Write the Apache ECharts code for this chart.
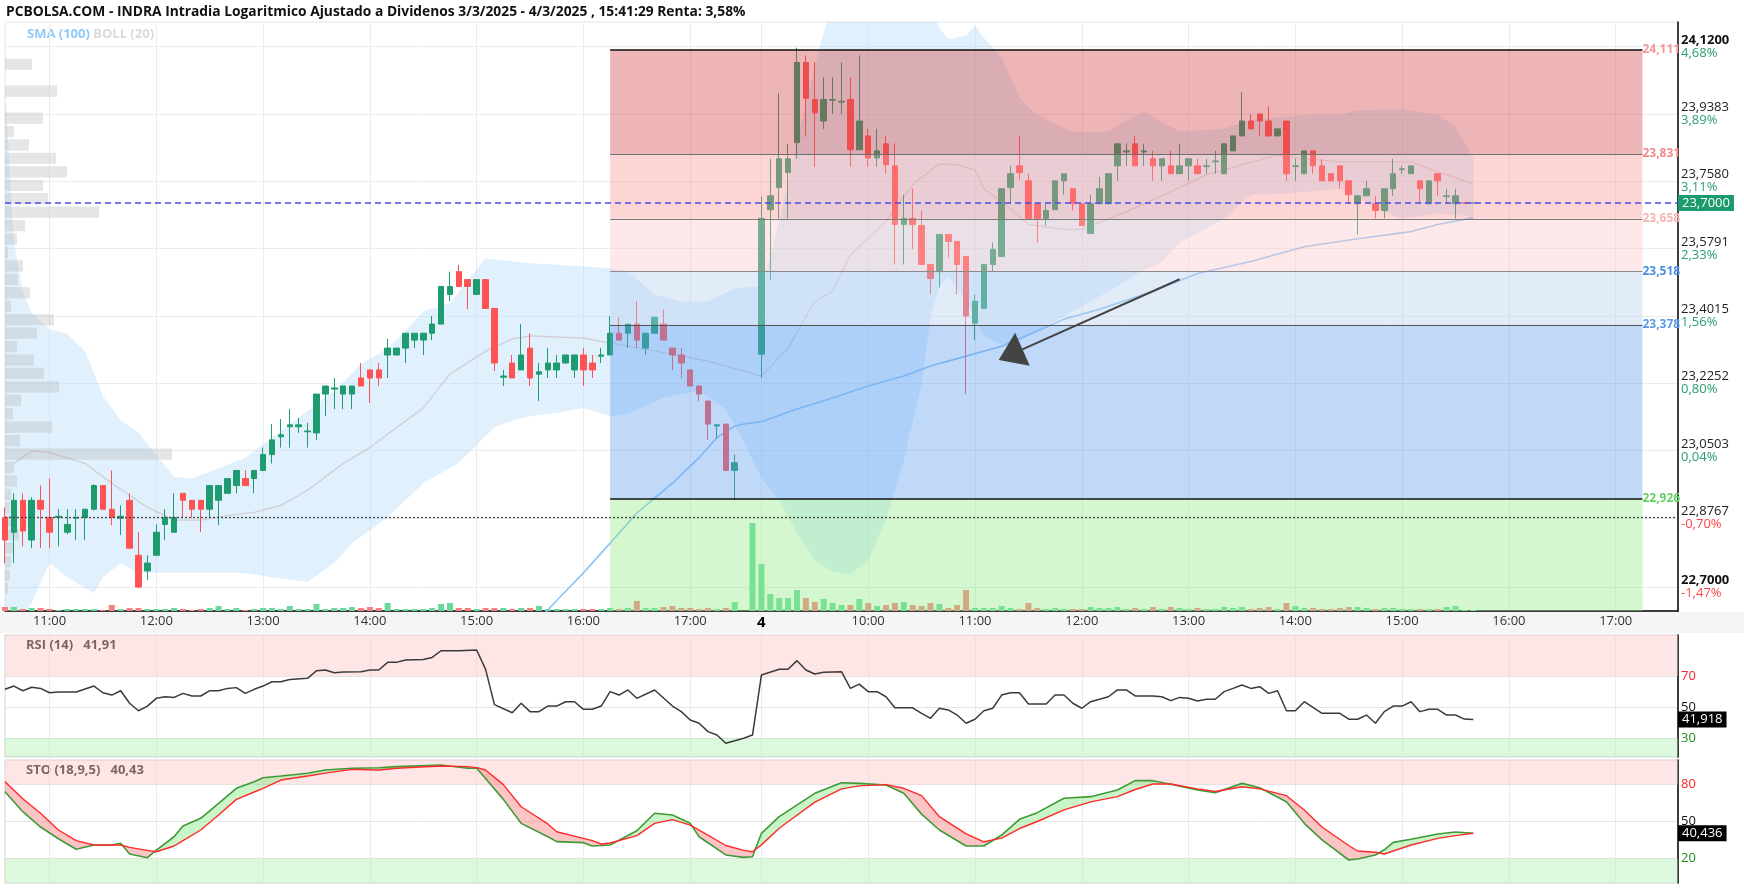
<!DOCTYPE html>
<html>
<head>
<meta charset="utf-8">
<script src="https://cdn.jsdelivr.net/npm/echarts@6/dist/echarts.min.js"></script>
<style>
  html, body { margin: 0; padding: 0; background: #fff; }
  #chart { width: 1744px; height: 888px; }
</style>
</head>
<body>
<div id="chart"></div>
<script>
const L = Math.log;
const FONT = '"Open Sans", "Noto Sans", sans-serif';

// velas de 5 minutos: 3/3 10:35-17:35 y 4/3 09:00-17:35
function slots(day, h0, m0, h1, m1) {
  const out = [];
  for (let t = h0 * 60 + m0; t <= h1 * 60 + m1; t += 5) {
    out.push(day + ' ' + String(Math.floor(t / 60)).padStart(2, '0') + ':' + String(t % 60).padStart(2, '0'));
  }
  return out;
}
const day1Times = slots('3/3', 10, 35, 17, 35);
const day2Times = slots('4/3', 9, 0, 17, 35);
const categories = day1Times.concat(day2Times);

// eje de precios (log) y etiquetas
const priceTicks = [22.7000, 22.8767, 23.0503, 23.2252, 23.4015, 23.5791, 23.7580, 23.9383, 24.1200];
const pctLabels = ['-1,47%', '-0,70%', '0,04%', '0,80%', '1,56%', '2,33%', '3,11%', '3,89%', '4,68%'];
const rsiTicks = [30, 50, 70];
const stoTicks = [20, 50, 80];

// [open, close, low, high]
const day1Ohlc = [
  [22.878,22.820,22.761,22.904],[22.840,22.922,22.761,22.940],[22.922,22.843,22.804,22.940],[22.820,22.922,22.799,22.930],[22.922,22.899,22.799,22.960],
  [22.878,22.840,22.799,22.978],[22.878,22.881,22.804,22.899],[22.840,22.860,22.835,22.899],[22.876,22.878,22.820,22.899],[22.878,22.899,22.820,22.899],
  [22.899,22.960,22.896,22.963],[22.960,22.899,22.899,22.960],[22.899,22.878,22.858,22.999],[22.876,22.881,22.833,22.909],[22.922,22.799,22.799,22.940],
  [22.781,22.700,22.697,22.840],[22.741,22.761,22.718,22.781],[22.781,22.840,22.779,22.860],[22.860,22.878,22.820,22.899],[22.840,22.878,22.840,22.940],
  [22.940,22.922,22.878,22.940],[22.922,22.899,22.878,22.922],[22.922,22.899,22.840,22.922],[22.899,22.960,22.878,22.960],[22.922,22.960,22.858,22.960],
  [22.940,22.978,22.940,22.978],[22.960,22.999,22.940,22.999],[22.978,22.960,22.960,22.999],[22.978,22.999,22.940,22.999],[22.999,23.040,22.999,23.058],
  [23.040,23.078,23.017,23.119],[23.086,23.091,23.058,23.132],[23.112,23.117,23.058,23.158],[23.112,23.117,23.096,23.135],[23.099,23.101,23.058,23.122],
  [23.096,23.197,23.078,23.197],[23.197,23.218,23.140,23.218],[23.210,23.213,23.158,23.239],[23.197,23.218,23.158,23.218],[23.197,23.218,23.158,23.218],
  [23.239,23.218,23.218,23.278],[23.260,23.239,23.174,23.260],[23.260,23.239,23.218,23.278],[23.299,23.317,23.239,23.341],[23.299,23.317,23.299,23.317],
  [23.317,23.356,23.278,23.356],[23.338,23.356,23.317,23.356],[23.338,23.356,23.299,23.356],[23.356,23.380,23.338,23.401],[23.380,23.479,23.380,23.479],
  [23.458,23.479,23.440,23.518],[23.518,23.479,23.479,23.537],[23.497,23.479,23.419,23.497],[23.458,23.497,23.458,23.497],[23.497,23.421,23.421,23.497],
  [23.421,23.278,23.257,23.421],[23.241,23.244,23.218,23.260],[23.278,23.239,23.239,23.299],[23.260,23.299,23.260,23.380],[23.317,23.239,23.218,23.356],
  [23.249,23.255,23.179,23.278],[23.260,23.278,23.239,23.317],[23.260,23.278,23.239,23.299],[23.278,23.299,23.278,23.299],[23.260,23.299,23.239,23.299],
  [23.299,23.260,23.218,23.317],[23.278,23.260,23.239,23.299],[23.296,23.299,23.278,23.317],[23.299,23.356,23.299,23.401],[23.356,23.338,23.338,23.398],
  [23.356,23.380,23.317,23.380],[23.380,23.338,23.317,23.440],[23.317,23.356,23.299,23.356],[23.356,23.398,23.356,23.398],[23.380,23.338,23.338,23.419],
  [23.317,23.299,23.260,23.317],[23.299,23.278,23.239,23.317],[23.260,23.218,23.218,23.260],[23.218,23.197,23.179,23.218],[23.179,23.119,23.078,23.179],
  [23.114,23.117,23.081,23.119],[23.119,22.999,22.999,23.119],[22.999,23.019,22.922,23.040]
];
const day2Ohlc = [
  [23.301,23.659,23.239,23.717],[23.682,23.719,23.497,23.818],[23.741,23.818,23.659,23.994],[23.781,23.818,23.659,23.858],[23.861,24.077,23.818,24.117],
  [24.077,23.980,23.877,24.096],[23.977,23.941,23.797,24.077],[23.919,23.977,23.898,24.037],[23.975,23.977,23.938,24.037],[23.970,23.972,23.938,24.077],
  [23.977,23.842,23.797,24.037],[23.842,23.919,23.842,24.096],[23.879,23.820,23.797,23.898],[23.820,23.839,23.797,23.898],[23.858,23.802,23.778,23.879],
  [23.799,23.643,23.537,23.858],[23.643,23.659,23.537,23.722],[23.659,23.643,23.577,23.738],[23.640,23.537,23.537,23.680],[23.537,23.500,23.458,23.537],
  [23.518,23.616,23.476,23.616],[23.616,23.598,23.555,23.616],[23.598,23.537,23.458,23.598],[23.558,23.401,23.197,23.558],[23.382,23.440,23.338,23.458],
  [23.421,23.537,23.421,23.537],[23.537,23.577,23.518,23.595],[23.558,23.738,23.558,23.738],[23.741,23.778,23.698,23.799],[23.799,23.781,23.762,23.879],
  [23.759,23.659,23.659,23.778],[23.698,23.659,23.595,23.698],[23.659,23.680,23.640,23.698],[23.682,23.759,23.682,23.759],[23.759,23.778,23.722,23.778],
  [23.738,23.698,23.680,23.738],[23.698,23.640,23.640,23.698],[23.619,23.698,23.619,23.722],[23.698,23.738,23.698,23.770],[23.698,23.778,23.698,23.778],
  [23.799,23.858,23.759,23.858],[23.836,23.839,23.799,23.858],[23.858,23.799,23.799,23.879],[23.836,23.839,23.799,23.858],[23.818,23.799,23.759,23.839],
  [23.799,23.818,23.759,23.818],[23.799,23.778,23.778,23.839],[23.778,23.799,23.778,23.858],[23.799,23.818,23.759,23.818],[23.799,23.778,23.778,23.818],
  [23.797,23.799,23.778,23.818],[23.810,23.812,23.778,23.839],[23.778,23.858,23.778,23.858],[23.839,23.879,23.839,23.879],[23.879,23.919,23.879,23.996],
  [23.919,23.898,23.898,23.938],[23.938,23.919,23.879,23.938],[23.919,23.879,23.879,23.959],[23.879,23.898,23.879,23.898],[23.919,23.778,23.759,23.919],
  [23.797,23.799,23.759,23.818],[23.778,23.839,23.778,23.839],[23.839,23.799,23.778,23.839],[23.799,23.759,23.759,23.818],[23.778,23.759,23.759,23.778],
  [23.799,23.759,23.738,23.799],[23.759,23.722,23.698,23.759],[23.698,23.719,23.616,23.719],[23.719,23.738,23.719,23.759],[23.698,23.680,23.659,23.719],
  [23.680,23.738,23.659,23.738],[23.738,23.778,23.719,23.818],[23.789,23.791,23.778,23.799],[23.778,23.799,23.778,23.799],[23.759,23.738,23.698,23.759],
  [23.698,23.759,23.698,23.759],[23.778,23.759,23.719,23.778],[23.717,23.719,23.698,23.738],[23.698,23.719,23.659,23.738],[23.700,23.700,23.698,23.703],
  [23.700,23.700,23.698,23.703]
];

// volumen (miles de títulos aprox.)
const day1Vol = [40,40,20,30,30,20,10,20,20,20, 20,10,60,20,30,30,20,20,20,30, 20,10,20,30,50,20,30,10,20,30,
  30,20,50,20,20,70,20,30,30,40, 30,40,30,80,20,20,20,20,30,70, 80,30,30,20,30,30,30,20,30,30,
  50,20,20,20,20,20,20,20,30,20, 30,100,30,30,40,50,30,30,20,30, 20,30,90,0,880];
const day2Vol = [470,170,130,130,210,130,90,120,80,60, 60,120,80,50,60,80,90,60,50,80, 70,30,60,210,30,30,30,50,30,20,
  80,30,20,30,20,20,20,40,30,30, 40,20,30,20,40,20,40,30,20,30, 20,20,40,30,40,20,30,40,20,80,
  50,30,30,20,20,30,40,40,30,20, 30,30,20,20,20,20,20,40,50,10, 10];

// perfil de volumen por precio (40 tramos, de arriba a abajo)
const profileVol = [27,0,52,0,38,9,24,51,62,38, 43,94,20,12,3,18,13,25,6,49, 32,12,29,39,54,16,8,47,15,167, 9,12,6,5,12,14,8,6,5,3];

// indicadores: [indice de vela, valor]
const bollUpper = [[0,24.010],[1,23.598],[2,23.466],[3,23.409],[5,23.367],[7,23.354],[9,23.309],[11,23.192],[13,23.128],[15,23.097],[17,23.038],[19,22.983],[21,22.978],[24,23.004],[27,23.032],[30,23.084],[33,23.136],[37,23.205],[40,23.275],[43,23.317],[45,23.362],[47,23.414],[50,23.435],[54,23.553],[59,23.540],[65,23.532],[68,23.527],[70,23.519],[73,23.458],[76,23.440],[79,23.440],[82,23.474],[85,23.479],[86,23.558],[87,23.651],[88,23.757],[89,23.863],[90,23.970],[91,24.064],[92,24.158],[93,24.239],[95,24.320],[98,24.375],[101,24.361],[103,24.293],[105,24.171],[106,24.139],[108,24.150],[109,24.177],[110,24.144],[112,24.090],[113,24.037],[114,23.983],[115,23.956],[116,23.935],[118,23.911],[120,23.890],[124,23.890],[126,23.921],[128,23.943],[130,23.916],[132,23.890],[135,23.895],[137,23.898],[140,23.921],[143,23.929],[147,23.935],[150,23.935],[152,23.948],[157,23.951],[161,23.935],[163,23.903],[164,23.863],[165,23.818]];
const bollLower = [[0,22.566],[3,22.659],[5,22.761],[7,22.725],[10,22.684],[11,22.725],[13,22.761],[15,22.736],[22,22.736],[27,22.736],[30,22.725],[34,22.713],[37,22.761],[39,22.812],[43,22.878],[47,22.966],[51,23.019],[55,23.110],[57,23.128],[59,23.140],[62,23.148],[65,23.161],[68,23.140],[70,23.146],[74,23.187],[76,23.197],[78,23.205],[81,23.158],[83,23.076],[84,23.025],[85,22.979],[87,22.922],[89,22.838],[91,22.769],[93,22.738],[95,22.731],[97,22.769],[99,22.871],[101,23.025],[103,23.223],[104,23.396],[105,23.479],[106,23.505],[108,23.440],[110,23.348],[112,23.327],[114,23.335],[117,23.375],[121,23.427],[125,23.479],[128,23.524],[130,23.545],[132,23.595],[135,23.632],[137,23.659],[140,23.722],[144,23.725],[150,23.738],[153,23.703],[154,23.685],[157,23.659],[161,23.672],[165,23.664]];
const bollMid = [[1,23.017],[3,23.050],[5,23.045],[9,23.017],[12,22.966],[16,22.904],[19,22.871],[22,22.871],[25,22.883],[28,22.891],[31,22.909],[34,22.948],[38,23.017],[41,23.058],[44,23.110],[47,23.161],[50,23.249],[54,23.309],[57,23.341],[59,23.349],[65,23.343],[68,23.330],[72,23.314],[76,23.296],[79,23.283],[83,23.257],[85,23.244],[88,23.317],[91,23.440],[93,23.466],[95,23.563],[99,23.651],[102,23.749],[105,23.804],[107,23.802],[109,23.789],[110,23.738],[113,23.685],[115,23.643],[119,23.630],[121,23.630],[126,23.677],[131,23.730],[135,23.775],[139,23.802],[143,23.828],[146,23.818],[150,23.810],[154,23.810],[158,23.810],[161,23.783],[165,23.751]];
const sma100 = [[59,22.578],[61,22.642],[65,22.736],[68,22.812],[71,22.889],[75,22.966],[78,23.032],[80,23.084],[82,23.114],[83,23.119],[85,23.125],[89,23.158],[93,23.187],[97,23.218],[101,23.244],[104,23.270],[108,23.296],[112,23.322],[116,23.362],[119,23.393],[123,23.419],[129,23.466],[134,23.513],[140,23.545],[146,23.584],[152,23.605],[158,23.624],[161,23.643],[165,23.661]];

const rsiPoints = [[0,61.4],[1,63.5],[2,60.5],[3,62.7],[4,62],[5,59.2],[6,59.7],[8,59.7],[10,63.5],[11,59.2],[12,57.7],[13,60.5],[14,52.4],[15,47.6],[16,50.6],[17,55.6],[18,56.6],[19,56.2],[20,58.8],[21,57.1],[22,57.1],[23,60.5],[24,60.5],[25,62],[26,62.5],[27,58.8],[28,61.4],[29,63.5],[30,66.3],[31,66.3],[32,67.8],[34,68.5],[35,73.4],[36,73.9],[37,72.1],[38,72.6],[40,72.8],[41,73.9],[42,73.9],[43,78.8],[44,78.8],[45,80.3],[47,80.7],[48,82],[49,86.3],[51,86.3],[53,86.8],[54,74.4],[55,51.5],[57,46.3],[58,52.4],[59,47],[60,47],[61,50.6],[62,50.6],[63,53.4],[64,53.4],[65,48.5],[66,48.5],[67,50.6],[68,59.9],[69,57.7],[70,61],[71,55.6],[73,61],[75,50.6],[76,47],[77,41.6],[78,39.5],[79,34.1],[80,31.9],[81,26.6],[83,29.8],[84,31.9],[85,70.6],[87,74.3],[88,74.3],[89,79.9],[90,73.9],[91,71.3],[92,72.4],[94,72.8],[95,62],[96,64.8],[97,59.9],[98,59.9],[99,56.6],[100,49.5],[102,49.5],[103,45.9],[104,42.7],[105,49.2],[106,48.1],[107,44.8],[108,39.5],[109,42.1],[110,47.6],[111,49.2],[112,57.7],[113,59.2],[114,59.2],[115,51.9],[117,51.9],[118,57.7],[119,57.7],[120,52.4],[121,49.2],[122,53.4],[124,56.6],[125,61],[126,61],[127,57.1],[129,57.1],[130,56.6],[131,54.1],[132,56.2],[133,55.6],[134,53.9],[135,55],[136,55],[137,59.9],[138,62],[139,64.2],[140,62],[141,63.1],[142,58.8],[143,60.5],[144,47.6],[145,47.6],[146,53.4],[148,45.9],[150,45.9],[151,42.1],[152,42.1],[153,44.8],[154,39.5],[155,47],[156,50.6],[157,50.6],[158,53.4],[159,47],[160,48.5],[161,48.5],[162,44.8],[163,44.8],[164,42.2],[165,41.92]];

const stoIdx = [0,2,4,6,8,10,12,13,14,16,17,19,20,22,24,26,28,29,31,34,36,39,42,44,49,52,53,54,56,58,61,62,65,66,67,68,71,73,75,77,78,81,83,84,85,87,91,94,96,99,101,103,105,108,110,112,114,116,119,122,125,127,129,131,134,136,139,141,144,146,148,151,152,154,155,156,158,161,163,165];
const stoK = [74.2,58,45.5,36,27.4,30.9,30.9,32.3,23.6,20.6,26.8,37.6,46.3,52.6,64.8,77,82.4,85.6,87,89.2,91.9,93.3,93.7,94.6,95.9,93.3,93.3,85,68,48.5,37.6,33.6,32.8,30.1,30.5,30.9,42.5,56.7,55.3,48.5,37.6,22.8,20.8,21.4,40.4,53.9,72.9,81.5,81,79.7,72.9,56,43.1,30.1,30.1,39,51.8,57.2,68.9,70.2,75.6,83.2,83.2,80.3,75.6,73.4,81,77.5,66,48.5,35,18.7,19.5,22.8,27,33,35.5,39.8,41.5,40.4];
const stoD = [82.4,68.5,56.7,43.1,34.5,30.9,30.9,30.9,29,26.5,25.4,30.1,34.5,43.1,55.3,68,74,77,83.7,87,89.3,92.4,91.9,93.3,95.1,94.6,93.8,91.9,80,62,48,41.7,36.3,34.5,31.7,32.5,38.5,48.5,51.5,47,43,30.5,26.5,25.4,31,44.5,65.8,76.5,79,80,77,71,53.9,40,33.5,36.5,44.3,50,59.5,66,70.2,76,80.5,80.5,76.5,74.4,78.2,76.5,71,59.3,45.5,30.5,26,25,23.6,26,30.9,36.3,38.5,40.4];

const lastPrice = 23.70, lastRsi = 41.918, lastSto = 40.436, refLine = 22.878;

// retrocesos de Fibonacci
const fibLevels = [24.111, 23.831, 23.658, 23.518, 23.378, 22.926];
const fibLabels = ['24,111', '23,831', '23,658', '23,518', '23,378', '22,926'];
const fibFrom = '3/3 16:15', fibTo = '4/3 17:15';
const arrowFrom = ['4/3 12:55', 23.498], arrowTo = ['4/3 11:20', 23.300];

// ---- preparación ----
const tickLog = priceTicks.map(L);
const span = tickLog[8] - tickLog[0];
const yMax = tickLog[8] + span * 24.5 / 540.5;
const yMin = tickLog[0] - span * 24 / 540.5;
const rsiMin = 17.74, rsiMax = 96.45;
const firstCat = categories[0], lastCat = categories[categories.length - 1];

const candleData = day1Ohlc.concat([null, null], day2Ohlc);
while (candleData.length < categories.length) candleData.push(null);
const candles = candleData.map(c => c ? [L(c[0]), L(c[1]), L(c[2]), L(c[3])] : '-');
const volData = day1Vol.concat(day2Vol).map((v, n) => {
  const c = candleData[n];
  const up = !c || c[1] >= c[0];
  return { value: v, itemStyle: { color: up ? '#6ad99a' : '#f58080' } };
});
const logPts = arr => arr.map(p => [p[0], L(p[1])]);
const hourTick = (i, v) => v.slice(-3) === ':00';

const zoneColors = ['rgba(210,70,70,0.40)', 'rgba(250,150,150,0.40)', 'rgba(250,200,200,0.40)',
  'rgba(185,208,238,0.42)', 'rgba(97,160,240,0.40)', 'rgba(148,235,138,0.40)'];
const fibLineColors = ['#111', '#6e6e6e', '#7a7a7a', '#8a8a8a', '#555', '#111'];
const fibTextColors = ['#f29a9a', '#f28a8a', '#f7b4b4', '#4a8fe2', '#5a9be8', '#62cf62'];

const zoneAreas = fibLevels.map((lv, k) => [
  { coord: [fibFrom, L(lv)], itemStyle: { color: zoneColors[k] } },
  { coord: [fibTo, k < fibLevels.length - 1 ? L(fibLevels[k + 1]) : yMin] }
]);
const fibLines = fibLevels.map((lv, k) => [
  { coord: [fibFrom, L(lv)], lineStyle: { color: fibLineColors[k], width: (k === 0 || k === 5) ? 1.5 : 1, type: 'solid' },
    label: { show: true, position: 'end', distance: 0, formatter: fibLabels[k], color: fibTextColors[k],
      fontWeight: 'bold', fontSize: 12, fontFamily: FONT, padding: [0, 0, 17, 0] } },
  { coord: [fibTo, L(lv)] }
]);
const boxLabel = (text, bg) => ({ show: true, position: 'end', distance: 0, formatter: text, color: '#fff',
  backgroundColor: bg, padding: [2, 4, 1, 4], fontSize: 13, fontFamily: FONT });

const chart = echarts.init(document.getElementById('chart'));

const option = {
  animation: false,
  backgroundColor: '#fff',
  textStyle: { fontFamily: FONT },
  grid: [
    { left: 5, right: 66, top: 22, height: 589, show: true, borderColor: '#e4e4e4', borderWidth: 1 },
    { left: 5, right: 66, top: 511, height: 100 },
    { left: 5, width: 600, top: 57.6, height: 537.6 },
    { left: 5, right: 66, top: 635, height: 122, show: true, borderColor: '#d2d2d2', borderWidth: 1 },
    { left: 5, right: 66, top: 760, height: 123, show: true, borderColor: '#d2d2d2', borderWidth: 1 }
  ],
  xAxis: [
    { type: 'category', gridIndex: 0, data: categories, boundaryGap: false,
      axisLine: { lineStyle: { color: '#000', width: 1.5 } }, axisTick: { show: false },
      axisLabel: { interval: hourTick, color: '#333', fontSize: 13, margin: 4,
        formatter: v => v === '4/3 09:00' ? '{d|4}' : v.slice(-5),
        rich: { d: { fontWeight: 'bold', fontSize: 15, color: '#000' } } },
      splitLine: { show: true, interval: hourTick, lineStyle: { color: '#ebebeb' } } },
    { type: 'category', gridIndex: 1, data: categories, boundaryGap: false, show: false },
    { type: 'value', gridIndex: 2, min: 0, max: 600, show: false },
    { type: 'category', gridIndex: 3, data: categories, boundaryGap: false,
      axisLine: { show: false }, axisTick: { show: false }, axisLabel: { show: false },
      splitLine: { show: true, interval: hourTick, lineStyle: { color: '#ebebeb' } } },
    { type: 'category', gridIndex: 4, data: categories, boundaryGap: false,
      axisLine: { show: false }, axisTick: { show: false }, axisLabel: { show: false },
      splitLine: { show: true, interval: hourTick, lineStyle: { color: '#ebebeb' } } }
  ],
  yAxis: [
    { type: 'value', gridIndex: 0, position: 'right', min: yMin, max: yMax, scale: true,
      axisLine: { show: true, lineStyle: { color: '#000', width: 1.5 } },
      axisTick: { show: false, customValues: tickLog },
      splitLine: { show: true, lineStyle: { color: '#ececec' } },
      axisLabel: { customValues: tickLog, margin: 3, align: 'left',
        formatter: function (v) {
          const k = tickLog.findIndex(t => Math.abs(t - v) < 1e-6);
          if (k < 0) return '';
          const p = priceTicks[k].toFixed(4).replace('.', ',');
          const pc = pctLabels[k];
          return '{' + ((k === 0 || k === 8) ? 'pb' : 'p') + '|' + p + '}\n{' + (pc[0] === '-' ? 'neg' : 'pos') + '|' + pc + '}';
        },
        rich: {
          p: { color: '#222', fontSize: 13, lineHeight: 13 },
          pb: { color: '#111', fontSize: 13, lineHeight: 13, fontWeight: 'bold' },
          pos: { color: '#2a9d6f', fontSize: 13, lineHeight: 13 },
          neg: { color: '#ff4545', fontSize: 13, lineHeight: 13 }
        } } },
    { type: 'value', gridIndex: 1, min: 0, max: 1000, show: false },
    { type: 'category', gridIndex: 2, data: profileVol.map((v, k) => k), inverse: true, show: false },
    { type: 'value', gridIndex: 3, position: 'right', min: rsiMin, max: rsiMax,
      axisLine: { show: true, lineStyle: { color: '#000', width: 1.5 } },
      axisTick: { show: false, customValues: rsiTicks },
      splitLine: { show: true, lineStyle: { color: '#e4e4e4' } },
      axisLabel: { customValues: rsiTicks, margin: 3, fontSize: 13,
        formatter: v => v === 70 ? '{r|70}' : v === 30 ? '{g|30}' : '{k|50}',
        rich: { r: { color: '#ff2020', fontSize: 13 }, g: { color: '#1d8f1d', fontSize: 13 }, k: { color: '#111', fontSize: 13 } } } },
    { type: 'value', gridIndex: 4, position: 'right', min: 0, max: 100,
      axisLine: { show: true, lineStyle: { color: '#000', width: 1.5 } },
      axisTick: { show: false, customValues: stoTicks },
      splitLine: { show: true, lineStyle: { color: '#e4e4e4' } },
      axisLabel: { customValues: stoTicks, margin: 3, fontSize: 13,
        formatter: v => v === 80 ? '{r|80}' : v === 20 ? '{g|20}' : '{k|50}',
        rich: { r: { color: '#ff2020', fontSize: 13 }, g: { color: '#1d8f1d', fontSize: 13 }, k: { color: '#111', fontSize: 13 } } } }
  ],
  graphic: [
    { type: 'rect', z: -10, shape: { x: 0, y: 612, width: 1744, height: 21 }, style: { fill: '#f5f5f5' } },
    { type: 'text', x: 6, y: 12, style: { text: 'PCBOLSA.COM - INDRA Intradia Logaritmico Ajustado a Dividenos 3/3/2025 - 4/3/2025 , 15:41:29 Renta: 3,58%',
      fill: '#111', font: 'bold 13.8px "Open Sans", sans-serif', verticalAlign: 'middle' } },
    { type: 'text', x: 27, y: 34, style: { text: '{a|SMA (100)} {b|BOLL (20)}', verticalAlign: 'middle',
      rich: { a: { fill: '#90caf9', fontWeight: 'bold', fontSize: 13, fontFamily: FONT }, b: { fill: '#d9d9d9', fontWeight: 'bold', fontSize: 13, fontFamily: FONT } } } },
    { type: 'text', x: 26, y: 645, style: { text: 'RSI (14)   41,91', fill: '#111', font: 'bold 13px ' + FONT, verticalAlign: 'middle' } },
    { type: 'text', x: 26, y: 770, style: { text: 'STO (18,9,5)   40,43', fill: '#111', font: 'bold 13px ' + FONT, verticalAlign: 'middle' } }
  ],
  series: [
    { name: 'BOLL banda', type: 'custom', xAxisIndex: 0, yAxisIndex: 0, clip: true, z: 1, silent: true,
      data: [0],
      renderItem: function (params, api) {
        const up = bollUpper.map(p => api.coord([p[0], L(p[1])]));
        const lo = bollLower.map(p => api.coord([p[0], L(p[1])])).reverse();
        return { type: 'polygon', shape: { points: up.concat(lo) }, style: { fill: 'rgba(187,222,251,0.45)' } };
      } },
    { name: 'BOLL media', type: 'line', xAxisIndex: 0, yAxisIndex: 0, data: logPts(bollMid), showSymbol: false, z: 1,
      lineStyle: { color: 'rgba(190,160,160,0.45)', width: 1.2 } },
    { name: 'Perfil', type: 'bar', xAxisIndex: 2, yAxisIndex: 2, data: profileVol, barCategoryGap: '16%', z: 1, silent: true,
      itemStyle: { color: 'rgba(185,185,185,0.36)' } },
    { name: 'Volumen', type: 'bar', xAxisIndex: 1, yAxisIndex: 1, data: volData, barWidth: 6, z: 2, silent: true },
    { name: 'INDRA', type: 'candlestick', xAxisIndex: 0, yAxisIndex: 0, data: candles, barWidth: 6, z: 3,
      itemStyle: { color: '#1e9b6f', color0: '#ff5252', borderColor: '#1e9b6f', borderColor0: '#ff5252', borderWidth: 1 } },
    { name: 'SMA (100)', type: 'line', xAxisIndex: 0, yAxisIndex: 0, data: logPts(sma100), showSymbol: false, z: 3,
      lineStyle: { color: '#8fc4f5', width: 1.6 } },
    { name: 'Fibonacci', type: 'line', xAxisIndex: 0, yAxisIndex: 0, data: [], z: 4, silent: true,
      markArea: { z: 4, silent: true, data: zoneAreas },
      markLine: { z: 5, silent: true, symbol: 'none', precision: 6,
        data: fibLines.concat([
          [{ coord: [firstCat, L(refLine)], lineStyle: { color: '#444', width: 1.3, type: [2, 2] }, label: { show: false } },
           { coord: [lastCat, L(refLine)] }],
          [{ coord: [arrowFrom[0], L(arrowFrom[1])], symbol: 'none', lineStyle: { color: '#444', width: 2, type: 'solid' }, label: { show: false } },
           { coord: [arrowTo[0], L(arrowTo[1])], symbol: 'triangle', symbolSize: [36, 26], itemStyle: { color: '#111' } }],
          [{ coord: [firstCat, L(lastPrice)], lineStyle: { color: '#4a4af0', width: 1.5, type: [6, 4] }, label: boxLabel('23,7000', '#1b9a6c') },
           { coord: [lastCat, L(lastPrice)] }]
        ]) } },
    { name: 'RSI', type: 'line', xAxisIndex: 3, yAxisIndex: 3, data: rsiPoints, showSymbol: false, z: 3,
      lineStyle: { color: '#3a3a3a', width: 1.5 },
      markArea: { silent: true, data: [
        [{ yAxis: 70, itemStyle: { color: 'rgba(255,200,200,0.45)' } }, { yAxis: rsiMax }],
        [{ yAxis: rsiMin, itemStyle: { color: 'rgba(170,240,170,0.40)' } }, { yAxis: 30 }] ] },
      markLine: { silent: true, symbol: 'none', precision: 4, data: [
        [{ coord: [firstCat, lastRsi], lineStyle: { color: 'rgba(0,0,0,0)' }, label: boxLabel('41,918', '#000') },
         { coord: [lastCat, lastRsi] }] ] } },
    { name: 'STO relleno', type: 'custom', xAxisIndex: 4, yAxisIndex: 4, z: 2, silent: true, data: [0],
      renderItem: function (params, api) {
        const green = 'rgba(120,230,120,0.40)', red = 'rgba(245,110,110,0.40)';
        const kids = [];
        for (let k = 0; k < stoIdx.length - 1; k++) {
          const k0 = api.coord([stoIdx[k], stoK[k]]), k1 = api.coord([stoIdx[k + 1], stoK[k + 1]]);
          const d0 = api.coord([stoIdx[k], stoD[k]]), d1 = api.coord([stoIdx[k + 1], stoD[k + 1]]);
          const a0 = stoK[k] - stoD[k], a1 = stoK[k + 1] - stoD[k + 1];
          if (a0 * a1 < 0) {
            const t = a0 / (a0 - a1);
            const m = [k0[0] + t * (k1[0] - k0[0]), k0[1] + t * (k1[1] - k0[1])];
            kids.push({ type: 'polygon', shape: { points: [k0, m, d0] }, style: { fill: a0 > 0 ? green : red } });
            kids.push({ type: 'polygon', shape: { points: [m, k1, d1] }, style: { fill: a1 > 0 ? green : red } });
          } else {
            kids.push({ type: 'polygon', shape: { points: [k0, k1, d1, d0] }, style: { fill: (a0 + a1) >= 0 ? green : red } });
          }
        }
        return { type: 'group', children: kids };
      } },
    { name: '%K', type: 'line', xAxisIndex: 4, yAxisIndex: 4, data: stoIdx.map((n, k) => [n, stoK[k]]), showSymbol: false, z: 3,
      lineStyle: { color: '#3f9a36', width: 1.6 },
      markArea: { silent: true, data: [
        [{ yAxis: 80, itemStyle: { color: 'rgba(255,200,200,0.45)' } }, { yAxis: 100 }],
        [{ yAxis: 0, itemStyle: { color: 'rgba(170,240,170,0.40)' } }, { yAxis: 20 }] ] },
      markLine: { silent: true, symbol: 'none', precision: 4, data: [
        [{ coord: [firstCat, lastSto], lineStyle: { color: 'rgba(0,0,0,0)' }, label: boxLabel('40,436', '#000') },
         { coord: [lastCat, lastSto] }] ] } },
    { name: '%D', type: 'line', xAxisIndex: 4, yAxisIndex: 4, data: stoIdx.map((n, k) => [n, stoD[k]]), showSymbol: false, z: 3,
      lineStyle: { color: '#ff2a2a', width: 1.4 } }
  ]
};

chart.setOption(option);
</script>
</body>
</html>
